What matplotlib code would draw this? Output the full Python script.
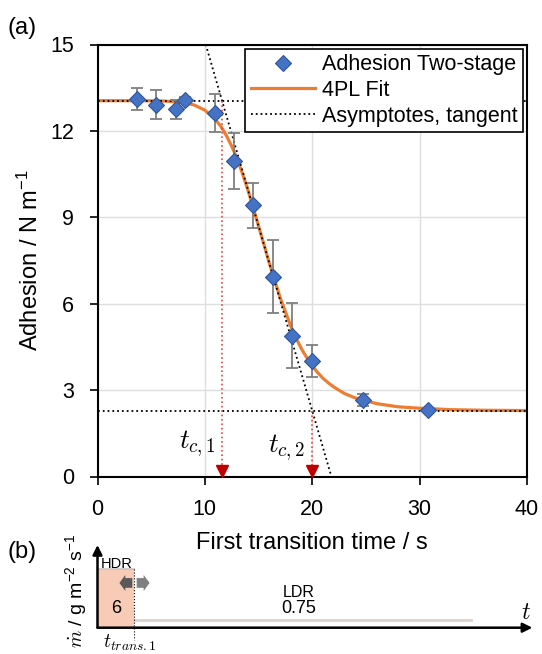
import matplotlib
matplotlib.use("Agg")
import matplotlib.pyplot as plt
from matplotlib.patches import FancyArrow

plt.rcParams['font.family'] = ['Liberation Sans', 'DejaVu Sans']
plt.rcParams['mathtext.fontset'] = 'cm'

# (a) adhesion vs first transition time
trans_time = [3.65, 5.45, 7.29, 8.16, 10.94, 12.71, 14.48, 16.32, 18.16, 20.0, 24.7, 30.8]
adhesion = [13.10, 12.91, 12.75, 13.08, 12.63, 10.94, 9.41, 6.94, 4.89, 4.02, 2.65, 2.30]
adhesion_err = [0.38, 0.51, 0.32, 0.10, 0.66, 0.97, 0.78, 1.26, 1.13, 0.55, 0.21, 0.05]

# 4PL fit curve
fit_time = [0, 2, 4, 6, 8, 9, 10, 11, 11.5, 12, 12.5, 13, 13.5, 14, 15, 16, 17, 18, 18.5,
            19, 19.5, 20, 20.5, 21, 21.5, 22, 23, 24, 26, 28, 30, 33, 36, 40]
fit_adhesion = [13.05, 13.05, 13.05, 13.04, 12.99, 12.90, 12.72, 12.39, 12.15, 11.84, 11.47,
                11.03, 10.52, 9.96, 8.70, 7.41, 6.22, 5.22, 4.80, 4.43, 4.12, 3.84, 3.61,
                3.41, 3.25, 3.11, 2.88, 2.73, 2.53, 2.42, 2.37, 2.32, 2.30, 2.29]

upper_asym = 13.05
lower_asym = 2.28
tangent_time = [10.08, 21.78]
tangent_adhesion = [15, 0]
t_c = [11.6, 20.0]
t_c_asym = [upper_asym, lower_asym]
t_c_labels = [r'$t_{c,1}$', r'$t_{c,2}$']

# (b) dosing schematic
hdr_rate = 6
ldr_rate = 0.75
t_trans = 3.43
t_end = 34.8

blue = '#4472C4'
orange = '#ED7D31'
red = '#C00000'

fig = plt.figure(figsize=(5.42, 6.54), dpi=100)
ax = fig.add_axes([97.5 / 542, 1 - 476.5 / 654, 429.5 / 542, 432 / 654])

ax.plot(fit_time, fit_adhesion, color=orange, lw=2.3, zorder=2, label='4PL Fit')
ax.axhline(upper_asym, color='black', ls=':', lw=1.3, zorder=3,
           label='Asymptotes, tangent')
ax.axhline(lower_asym, color='black', ls=':', lw=1.3, zorder=3)
ax.plot(tangent_time, tangent_adhesion, color='black', ls=':', lw=1.3, zorder=3)

for tc, ya in zip(t_c, t_c_asym):
    ax.plot([tc, tc], [ya, 0.35], color='#E8443A', ls=':', lw=1.2, zorder=3)
    ax.plot(tc, 0.2, marker='v', ms=8, color=red, zorder=4, clip_on=False)

ax.text(11.0, 1.13, t_c_labels[0], fontsize=19.5, ha='right', va='center')
ax.text(17.6, 1.0, t_c_labels[1], fontsize=19.5, ha='center', va='center')

ax.errorbar(trans_time, adhesion, yerr=adhesion_err, fmt='none', ecolor='#7F7F7F',
            elinewidth=1.3, capsize=4, capthick=1.3, zorder=4)
ax.plot(trans_time, adhesion, ls='none', marker='D', ms=8.5, mfc=blue,
        mec='#2F5597', mew=0.8, zorder=5, label='Adhesion Two-stage')

ax.set_xlim(0, 40)
ax.set_ylim(0, 15)
ax.set_xticks([0, 10, 20, 30, 40])
ax.set_yticks([0, 3, 6, 9, 12, 15])
ax.grid(color='#DEDEDE', lw=1)
ax.set_axisbelow(True)
ax.tick_params(axis='both', direction='out', length=6, width=1.2, labelsize=15.5)
ax.tick_params(axis='x', pad=10)
ax.tick_params(axis='y', pad=11)
for sp in ax.spines.values():
    sp.set_linewidth(1.5)

ax.set_xlabel('First transition time / s', fontsize=17, labelpad=9)
ax.set_ylabel(r'Adhesion / N m$\mathregular{^{-1}}$', fontsize=17, labelpad=5)

handles, labels = ax.get_legend_handles_labels()
order = [2, 0, 1]
leg = ax.legend([handles[i] for i in order], [labels[i] for i in order],
                loc='upper right', fontsize=15.5, fancybox=False, framealpha=1,
                edgecolor='black', borderpad=0.25, labelspacing=0.22,
                handlelength=3.0, handletextpad=0.3, borderaxespad=0.2)
leg.get_frame().set_linewidth(1.2)
leg.set_zorder(10)

fig.text(22.5 / 542, 1 - 28 / 654, '(a)', fontsize=17, ha='center', va='center')

# (b) schematic of dosing rate
axb = fig.add_axes([97.5 / 542, 1 - 627.7 / 654, 429.5 / 542, 82.7 / 654])
axb.set_xlim(0, 40)
axb.set_ylim(0, 8.5)
axb.axis('off')

axb.bar(0, hdr_rate, width=t_trans, align='edge', color='#F8CBB7', edgecolor='none')
axb.plot([0, t_trans], [hdr_rate, hdr_rate], color='#C9C3C0', lw=1.2)
axb.plot([t_trans, t_end], [ldr_rate, ldr_rate], color='#DCD3CC', lw=2)
axb.plot([t_trans, t_trans], [hdr_rate, -1.3], color='black', ls=':', lw=0.8,
         clip_on=False)

axb.annotate('', xy=(40.5 / 40, 0), xytext=(0, 0), xycoords='axes fraction',
             arrowprops=dict(arrowstyle='-|>', color='black', lw=1.8,
                             mutation_scale=14, shrinkA=0, shrinkB=0),
             annotation_clip=False)
axb.annotate('', xy=(0, 1), xytext=(0, 0), xycoords='axes fraction',
             arrowprops=dict(arrowstyle='-|>', color='black', lw=1.8,
                             mutation_scale=14, shrinkA=0, shrinkB=0),
             annotation_clip=False)

axb.add_patch(FancyArrow(3.24, 4.6, -1.2, 0, width=1.0, head_width=1.65,
                         head_length=0.55, length_includes_head=True,
                         color='#595959', lw=0))
axb.add_patch(FancyArrow(3.65, 4.6, 1.2, 0, width=1.0, head_width=1.65,
                         head_length=0.55, length_includes_head=True,
                         color='#808080', lw=0))

axb.text(1.8, 6.5, 'HDR', fontsize=10.5, ha='center', va='center')
axb.text(1.72, 2.0, str(hdr_rate), fontsize=13, ha='center', va='center')
axb.text(18.7, 3.6, 'LDR', fontsize=11.5, ha='center', va='center')
axb.text(18.7, 2.0, str(ldr_rate), fontsize=13, ha='center', va='center')
axb.text(39.9, 1.5, r'$t$', fontsize=17, ha='center', va='center')
axb.text(3.0, -1.55, r'$t_{trans.1}$', fontsize=14, ha='center', va='center')

fig.text(76 / 542, 1 - 591 / 654,
         r'$\dot{m}$ / g m$\mathregular{^{-2}}$ s$\mathregular{^{-1}}$',
         fontsize=14, rotation=90, ha='center', va='center')
fig.text(22.5 / 542, 1 - 552 / 654, '(b)', fontsize=17, ha='center', va='center')

fig.savefig('out.png', dpi=100)
